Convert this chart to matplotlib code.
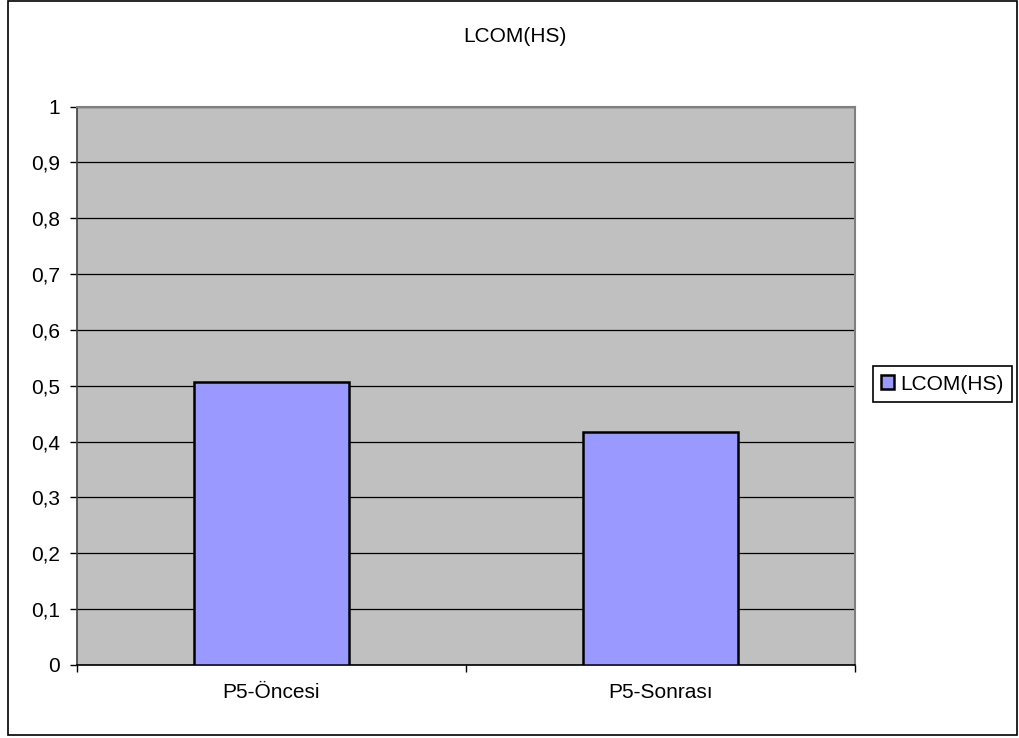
import matplotlib.pyplot as plt
from matplotlib.patches import Rectangle

categories = ["P5-Öncesi", "P5-Sonrası"]
values = [0.507, 0.418]
series_name = "LCOM(HS)"
y_ticks = [0, 0.1, 0.2, 0.3, 0.4, 0.5, 0.6, 0.7, 0.8, 0.9, 1]
y_labels = ["0", "0,1", "0,2", "0,3", "0,4", "0,5", "0,6", "0,7", "0,8", "0,9", "1"]


def main():
  plt.rcParams["font.family"] = ["Liberation Sans", "DejaVu Sans"]
  fig = plt.figure(figsize=(10.19, 7.38), dpi=100)
  W, H = 1019, 738
  fs = 15

  # outer chart border
  fig.patches.append(Rectangle((8 / W, 3 / H), 1009 / W, 734 / H, transform=fig.transFigure,
                               fill=False, edgecolor="black", linewidth=1.2))

  ax = fig.add_axes([77 / W, 73 / H, 778 / W, 558.5 / H])
  ax.set_facecolor("#C0C0C0")
  ax.set_axisbelow(True)
  ax.yaxis.grid(True, color="black", linewidth=0.9)

  x = range(len(categories))
  ax.bar(x, values, width=0.4, color="#9999FF", edgecolor="black", linewidth=1.8,
         label=series_name, zorder=3)

  ax.set_xlim(-0.5, 1.5)
  ax.set_ylim(0, 1)
  ax.set_yticks(y_ticks)
  ax.set_yticklabels(y_labels, fontsize=fs)
  ax.set_xticks([-0.5, 0.5, 1.5])
  ax.set_xticklabels([])
  ax.set_xticks(list(x), minor=True)
  ax.set_xticklabels(categories, minor=True, fontsize=fs)
  ax.tick_params(axis="x", which="minor", length=0, pad=13)
  ax.tick_params(axis="x", which="major", length=5, direction="out", width=1)
  ax.tick_params(axis="y", length=5, direction="out", width=1, pad=7)

  for side in ["top", "right"]:
    ax.spines[side].set_color("#808080")
    ax.spines[side].set_linewidth(1.5)
  ax.spines["left"].set_color("#404040")
  ax.spines["bottom"].set_color("black")
  ax.spines["left"].set_linewidth(1.2)
  ax.spines["bottom"].set_linewidth(1.2)

  fig.text(515 / W, 1 - 37 / H, "LCOM(HS)", ha="center", va="center", fontsize=fs)

  leg = fig.legend(loc="center left", bbox_to_anchor=(873 / W, 1 - 384 / H), fontsize=fs,
                   frameon=True, fancybox=False, edgecolor="black", framealpha=1,
                   handlelength=0.62, handleheight=0.62, handletextpad=0.3,
                   borderpad=0.4, borderaxespad=0)
  leg.get_frame().set_linewidth(1.2)

  fig.savefig("out.png", dpi=100)


if __name__ == "__main__":
  main()
